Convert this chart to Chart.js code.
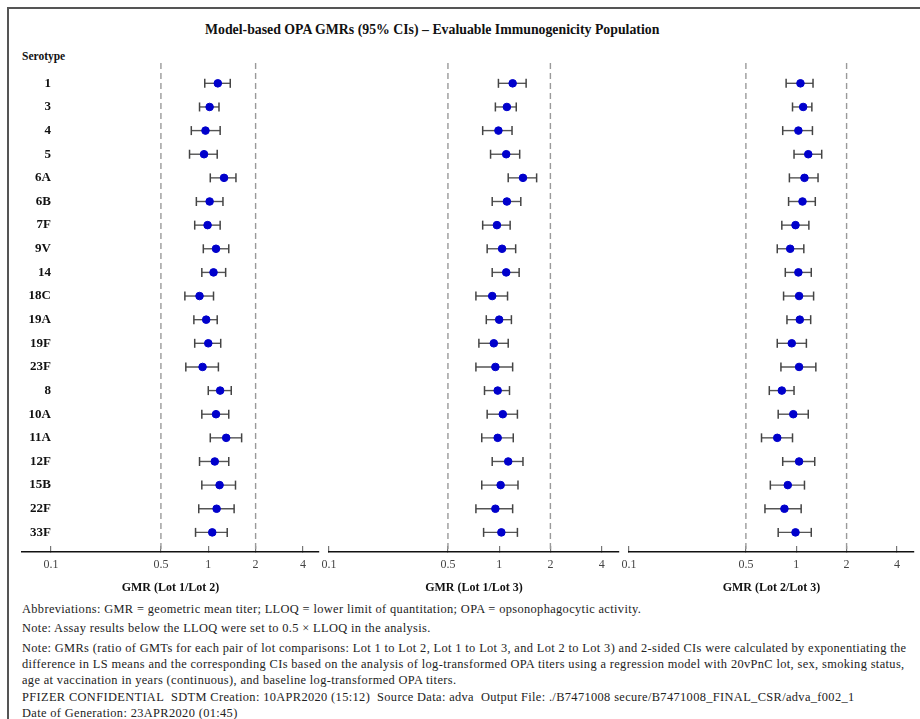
<!DOCTYPE html>
<html>
<head>
<meta charset="utf-8">
<script src="https://cdn.jsdelivr.net/npm/chart.js@4.4.1/dist/chart.umd.min.js"></script>
<style>
  html, body { margin: 0; padding: 0; background: #fff; overflow: hidden; }
  body { width: 920px; height: 719px; position: relative; font-family: 'Liberation Serif', serif; }
  .frame { position: absolute; left: 7px; top: 7px; width: 940px; height: 740px; border-top: 2px solid #555; border-left: 2px solid #555; }
  .title { position: absolute; left: 205px; top: 21px; font-weight: bold; font-size: 13.8px; line-height: 18px; white-space: nowrap; color: #111; }
  .hdr { position: absolute; left: 22px; top: 49px; font-weight: bold; font-size: 11.5px; line-height: 14px; color: #111; }
  canvas { position: absolute; }
  .note { position: absolute; left: 22px; font-size: 12.4px; letter-spacing: 0.36px; line-height: 14px; white-space: nowrap; color: #222; }
</style>
</head>
<body>
<div class="frame"></div>
<div class="title">Model-based OPA GMRs (95% CIs) – Evaluable Immunogenicity Population</div>
<div class="hdr">Serotype</div>
<canvas id="p1" width="337" height="542" style="left:2px;top:53px"></canvas>
<canvas id="p2" width="330" height="542" style="left:309px;top:53px"></canvas>
<canvas id="p3" width="311" height="542" style="left:609px;top:53px"></canvas>
<div class="note" style="top:602px">Abbreviations: GMR = geometric mean titer; LLOQ = lower limit of quantitation; OPA = opsonophagocytic activity.</div>
<div class="note" style="top:621px">Note: Assay results below the LLOQ were set to 0.5 × LLOQ in the analysis.</div>
<div class="note" style="top:641px">Note: GMRs (ratio of GMTs for each pair of lot comparisons: Lot 1 to Lot 2, Lot 1 to Lot 3, and Lot 2 to Lot 3) and 2-sided CIs were calculated by exponentiating the</div>
<div class="note" style="top:657px">difference in LS means and the corresponding CIs based on the analysis of log-transformed OPA titers using a regression model with 20vPnC lot, sex, smoking status,</div>
<div class="note" style="top:673px">age at vaccination in years (continuous), and baseline log-transformed OPA titers.</div>
<div class="note" style="top:690px">PFIZER CONFIDENTIAL&nbsp; SDTM Creation: 10APR2020 (15:12)&nbsp; Source Data: adva&nbsp; Output File: ./B7471008 secure/B7471008_FINAL_CSR/adva_f002_1</div>
<div class="note" style="top:706px">Date of Generation: 23APR2020 (01:45)</div>
<script>
// serotypes, top to bottom
const serotypes = ['1', '3', '4', '5', '6A', '6B', '7F', '9V', '14', '18C', '19A', '19F', '23F', '8', '10A', '11A', '12F', '15B', '22F', '33F'];

// Lot 1 / Lot 2
const lot12Gmr   = [1.15, 1.02, 0.96, 0.94, 1.26, 1.02, 0.99, 1.12, 1.08, 0.88, 0.97, 1.00, 0.92, 1.19, 1.12, 1.30, 1.10, 1.18, 1.13, 1.06];
const lot12Lower = [0.95, 0.88, 0.78, 0.76, 1.03, 0.84, 0.82, 0.93, 0.91, 0.71, 0.81, 0.82, 0.72, 1.00, 0.91, 1.03, 0.88, 0.91, 0.87, 0.83];
const lot12Upper = [1.38, 1.17, 1.19, 1.14, 1.50, 1.24, 1.19, 1.35, 1.29, 1.08, 1.14, 1.20, 1.16, 1.40, 1.35, 1.63, 1.35, 1.49, 1.46, 1.32];

// Lot 1 / Lot 3
const lot13Gmr   = [1.20, 1.11, 0.99, 1.10, 1.38, 1.11, 0.97, 1.04, 1.10, 0.91, 1.00, 0.93, 0.95, 0.98, 1.05, 0.98, 1.13, 1.02, 0.95, 1.03];
const lot13Lower = [0.99, 0.95, 0.80, 0.89, 1.13, 0.91, 0.80, 0.85, 0.91, 0.73, 0.84, 0.76, 0.73, 0.82, 0.85, 0.79, 0.91, 0.79, 0.73, 0.81];
const lot13Upper = [1.44, 1.26, 1.19, 1.32, 1.66, 1.34, 1.16, 1.25, 1.31, 1.12, 1.18, 1.13, 1.20, 1.15, 1.28, 1.21, 1.38, 1.29, 1.20, 1.28];

// Lot 2 / Lot 3
const lot23Gmr   = [1.06, 1.10, 1.03, 1.18, 1.12, 1.09, 0.99, 0.92, 1.03, 1.04, 1.05, 0.94, 1.04, 0.82, 0.96, 0.77, 1.04, 0.89, 0.85, 0.99];
const lot23Lower = [0.87, 0.95, 0.83, 0.97, 0.91, 0.90, 0.82, 0.77, 0.86, 0.84, 0.88, 0.77, 0.81, 0.69, 0.78, 0.62, 0.83, 0.70, 0.65, 0.78];
const lot23Upper = [1.26, 1.24, 1.25, 1.42, 1.35, 1.30, 1.19, 1.11, 1.23, 1.27, 1.22, 1.15, 1.31, 0.97, 1.18, 0.95, 1.29, 1.12, 1.07, 1.23];

const xTickValues = [0.1, 0.5, 1, 2, 4];
const refLines = [0.5, 2];
const axisTitles = ['GMR (Lot 1/Lot 2)', 'GMR (Lot 1/Lot 3)', 'GMR (Lot 2/Lot 3)'];

Chart.defaults.font.family = "'Liberation Serif', serif";
Chart.defaults.color = '#333';

const yMin = -0.86, yMax = 19.83;

// draws the serotype names next to the rows (first panel only)
const rowLabels = {
    id: 'rowLabels',
    afterDatasetsDraw(chart, args, opts) {
        if (!opts.show) return;
        const ctx = chart.ctx;
        const y = chart.scales.y;
        ctx.save();
        ctx.font = 'bold 13px "Liberation Serif", serif';
        ctx.fillStyle = '#111';
        ctx.textAlign = 'right';
        ctx.textBaseline = 'middle';
        serotypes.forEach((s, i) => {
            ctx.fillText(s, chart.chartArea.left + 29, y.getPixelForValue(i));
        });
        ctx.restore();
    }
};

function makePanel(id, gmr, lower, upper, title, xMin, padL, padR, showLabels) {
    const datasets = [];

    datasets.push({
        type: 'scatter',
        data: gmr.map((v, i) => ({ x: v, y: i })),
        backgroundColor: '#0000CC',
        borderColor: '#0000CC',
        pointRadius: 3.8,
        pointHoverRadius: 3.8
    });

    gmr.forEach((v, i) => {
        datasets.push({
            type: 'line',
            data: [{ x: lower[i], y: i }, { x: upper[i], y: i }],
            borderColor: '#555',
            borderWidth: 1.4,
            pointStyle: 'line',
            rotation: 90,
            pointRadius: 4.5,
            pointBorderColor: '#444',
            pointBorderWidth: 1.5,
            fill: false
        });
    });

    refLines.forEach(r => {
        datasets.push({
            type: 'line',
            data: [{ x: r, y: yMin }, { x: r, y: yMax }],
            borderColor: '#9a9a9a',
            borderWidth: 1.4,
            borderDash: [6, 4],
            pointRadius: 0,
            fill: false
        });
    });

    return new Chart(document.getElementById(id), {
        data: { datasets },
        options: {
            responsive: false,
            animation: false,
            layout: { padding: { left: padL, right: padR, top: 10, bottom: 0 } },
            plugins: {
                legend: { display: false },
                tooltip: { enabled: false },
                rowLabels: { show: showLabels }
            },
            scales: {
                x: {
                    type: 'logarithmic',
                    min: xMin,
                    max: 5.06,
                    afterBuildTicks: s => { s.ticks = xTickValues.map(v => ({ value: v })); },
                    afterFit: s => { s.height = 43; },
                    ticks: {
                        autoSkip: false,
                        maxRotation: 0,
                        padding: 12,
                        color: '#444',
                        font: { size: 12 },
                        callback: v => String(v)
                    },
                    grid: { drawOnChartArea: false, drawTicks: true, tickLength: -6, color: '#777', lineWidth: 1.2 },
                    border: { display: true, color: '#111', width: 1.5 },
                    title: { display: true, text: title, color: '#111', font: { size: 12, weight: 'bold' }, padding: 0 }
                },
                y: {
                    type: 'linear',
                    reverse: true,
                    min: yMin,
                    max: yMax,
                    display: false
                }
            }
        },
        plugins: [rowLabels]
    });
}

makePanel('p1', lot12Gmr, lot12Lower, lot12Upper, axisTitles[0], 0.0654, 20, 20, true);
makePanel('p2', lot13Gmr, lot13Lower, lot13Upper, axisTitles[1], 0.1, 20, 20, false);
makePanel('p3', lot23Gmr, lot23Lower, lot23Upper, axisTitles[2], 0.1, 20, 1, false);
</script>
</body>
</html>
